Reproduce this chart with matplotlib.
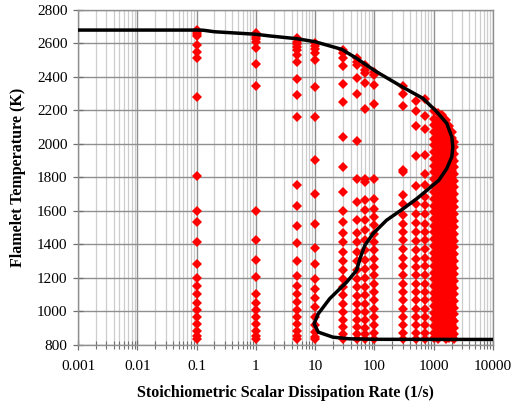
import matplotlib
matplotlib.use("Agg")
import matplotlib.pyplot as plt
from matplotlib.ticker import LogLocator, FixedLocator, FixedFormatter, NullFormatter

# S-curve (black line)
curve_x = [0.001, 0.1, 0.13, 0.2, 1, 1.7, 5, 10, 28, 50, 73, 108, 306, 662, 1127, 1660,
           2020, 2100, 2020, 1660, 1220, 768, 518, 306, 160, 95, 69, 57, 50, 34, 17.6,
           11.3, 9.6, 11.3, 19.9, 38, 100, 10000]
curve_T = [2680, 2680, 2679, 2670, 2655, 2645, 2628, 2610, 2565, 2511, 2471, 2431, 2337, 2271, 2191, 2122,
           2041, 1981, 1922, 1852, 1782, 1722, 1672, 1612, 1543, 1463, 1393, 1313, 1243, 1173, 1074,
           984, 924, 874, 844, 834, 831, 830]

# flamelet solutions (red diamonds), one temperature list per dissipation rate
col_x = [0.1, 1, 5, 10, 30, 50, 70, 100, 300, 500, 700, 1000, 1200, 1400, 1600, 1800, 2000, 2200]
t_0p1 = [2680, 2666, 2654, 2646, 2590, 2550, 2515, 2280, 1808, 1600, 1535, 1410, 1283, 1200, 1148,
         1103, 1050, 1005, 962, 920, 878, 848, 835]
t_1 = [2660, 2640, 2624, 2606, 2570, 2477, 2347, 1598, 1425, 1307, 1203, 1103, 1050, 1004, 962,
       920, 878, 848, 834]
t_5 = [2630, 2610, 2596, 2580, 2560, 2530, 2490, 2387, 2291, 2161, 1752, 1628, 1507, 1407, 1299,
       1207, 1147, 1099, 1053, 1008, 964, 920, 880, 848, 834]
t_10 = [2604, 2584, 2565, 2541, 2501, 2337, 2161, 1902, 1702, 1523, 1379, 1283, 1193, 1133, 1077,
        1023, 964, 914, 874, 844, 834]
t_30 = [2560, 2541, 2511, 2465, 2357, 2251, 2038, 1862, 1712, 1598, 1532, 1467, 1413, 1353, 1299,
        1243, 1193, 1143, 1093, 1044, 994, 948, 904, 864, 834]
t_50 = [2511, 2490, 2471, 2391, 2297, 2017, 1792, 1652, 1547, 1467, 1413, 1353, 1299, 1243, 1193,
        1143, 1087, 1044, 994, 948, 904, 864, 834]
t_70 = [2471, 2441, 2421, 2361, 2211, 1792, 1772, 1662, 1607, 1547, 1483, 1423, 1363, 1307, 1253,
        1199, 1143, 1093, 1044, 994, 944, 900, 864, 834]
t_100 = [2431, 2411, 2351, 2237, 1792, 1667, 1612, 1562, 1512, 1463, 1413, 1363, 1313, 1263, 1213,
         1163, 1113, 1064, 1014, 964, 914, 868, 834]
t_300 = [2345, 2297, 2225, 1846, 1830, 1692, 1642, 1572, 1523, 1473, 1423, 1373, 1319, 1267, 1213,
         1163, 1113, 1064, 1014, 964, 914, 868, 834]
t_500 = [2257, 2197, 2105, 1928, 1746, 1642, 1582, 1526, 1473, 1419, 1367, 1313, 1263, 1213, 1163,
         1113, 1064, 1014, 964, 914, 868, 834]
t_700 = [2265, 2165, 2086, 1932, 1822, 1752, 1682, 1632, 1582, 1523, 1473, 1423, 1373, 1319, 1267,
         1213, 1163, 1113, 1064, 1014, 964, 914, 868, 834]
t_1000 = [2195, 2150, 2110, 2070, 2030, 1990, 1950, 1910, 1870, 1830, 1790, 1750, 1710, 1670, 1630,
          1590, 1550, 1510, 1470, 1430, 1390, 1350, 1310, 1270, 1230, 1190, 1150, 1110, 1070, 1030,
          990, 950, 910, 870, 840]
t_1200 = [2185, 2140, 2095, 2055, 2015, 1975, 1935, 1895, 1855, 1815, 1775, 1735, 1695, 1655, 1615,
          1575, 1535, 1495, 1455, 1415, 1375, 1335, 1295, 1255, 1215, 1175, 1135, 1095, 1055, 1015,
          975, 935, 895, 860, 835]
t_1400 = [2170, 2125, 2080, 2040, 2000, 1960, 1920, 1880, 1840, 1800, 1760, 1720, 1680, 1640, 1600,
          1560, 1520, 1480, 1440, 1400, 1360, 1320, 1280, 1240, 1200, 1160, 1120, 1080, 1040, 1000,
          960, 920, 880, 850]
t_1600 = [2140, 2100, 2065, 2025, 1985, 1945, 1905, 1865, 1825, 1785, 1745, 1705, 1665, 1625, 1585,
          1545, 1505, 1465, 1425, 1385, 1345, 1305, 1265, 1225, 1185, 1145, 1105, 1065, 1025, 985,
          945, 905, 865, 835]
t_1800 = [2105, 2070, 2030, 1990, 1950, 1910, 1870, 1830, 1790, 1750, 1710, 1670, 1630, 1590, 1550,
          1510, 1470, 1430, 1390, 1350, 1310, 1270, 1230, 1190, 1150, 1110, 1070, 1030, 990, 950,
          910, 870, 840]
t_2000 = [2070, 2035, 1995, 1955, 1915, 1875, 1835, 1795, 1755, 1715, 1675, 1635, 1595, 1555, 1515,
          1475, 1435, 1395, 1355, 1315, 1275, 1235, 1195, 1155, 1115, 1075, 1035, 995, 955, 915,
          875, 845]
t_2200 = [2010, 1980, 1940, 1900, 1860, 1820, 1780, 1740, 1700, 1660, 1620, 1580, 1540, 1500, 1460,
          1420, 1380, 1340, 1300, 1260, 1220, 1180, 1140, 1100, 1060, 1020, 980, 940, 900, 860, 835]
col_T = [t_0p1, t_1, t_5, t_10, t_30, t_50, t_70, t_100, t_300, t_500, t_700,
         t_1000, t_1200, t_1400, t_1600, t_1800, t_2000, t_2200]

x_ticks = [0.001, 0.01, 0.1, 1, 10, 100, 1000, 10000]
x_tick_labels = ["0.001", "0.01", "0.1", "1", "10", "100", "1000", "10000"]
y_ticks = [800, 1000, 1200, 1400, 1600, 1800, 2000, 2200, 2400, 2600, 2800]

plt.rcParams['font.family'] = ['Liberation Serif', 'DejaVu Serif']

fig = plt.figure(figsize=(5.13, 4.08), dpi=100)
ax = fig.add_axes([78 / 513, 1 - 344.5 / 408, 415 / 513, 334.5 / 408])

ax.set_xscale('log')
ax.set_xlim(0.001, 10000)
ax.set_ylim(800, 2800)

ax.xaxis.set_major_locator(FixedLocator(x_ticks))
ax.xaxis.set_major_formatter(FixedFormatter(x_tick_labels))
ax.xaxis.set_minor_locator(LogLocator(base=10, subs=[2, 3, 4, 5, 6, 7, 8, 9], numticks=20))
ax.xaxis.set_minor_formatter(NullFormatter())
ax.yaxis.set_major_locator(FixedLocator(y_ticks))

ax.grid(True, which='major', axis='both', color='#8f8f8f', linewidth=1.0)
ax.grid(True, which='minor', axis='x', color='#cdcdcd', linewidth=0.9)
ax.set_axisbelow(True)

for sp in ax.spines.values():
    sp.set_color('#8f8f8f')
    sp.set_linewidth(1.0)

ax.tick_params(axis='both', which='major', direction='inout', length=7, color='#707070',
               labelsize=11, width=0.9)
ax.tick_params(axis='x', which='minor', direction='inout', length=6, color='#707070', width=0.8)
ax.tick_params(axis='x', which='major', pad=8)
ax.tick_params(axis='y', which='major', pad=4)

for xv, tl in zip(col_x, col_T):
    ax.plot([xv] * len(tl), tl, linestyle='none', marker='D', markersize=4.9,
            color='#ff0000', markeredgewidth=0, zorder=3)

ax.plot(curve_x, curve_T, color='black', linewidth=2.5, zorder=4, solid_capstyle='butt',
        solid_joinstyle='round')

ax.set_xlabel('Stoichiometric Scalar Dissipation Rate (1/s)', fontsize=11.5,
              fontweight='bold', labelpad=8)
ax.set_ylabel('Flamelet Temperature (K)', fontsize=11.5, fontweight='bold', labelpad=8)

fig.savefig('out.png', dpi=100)
